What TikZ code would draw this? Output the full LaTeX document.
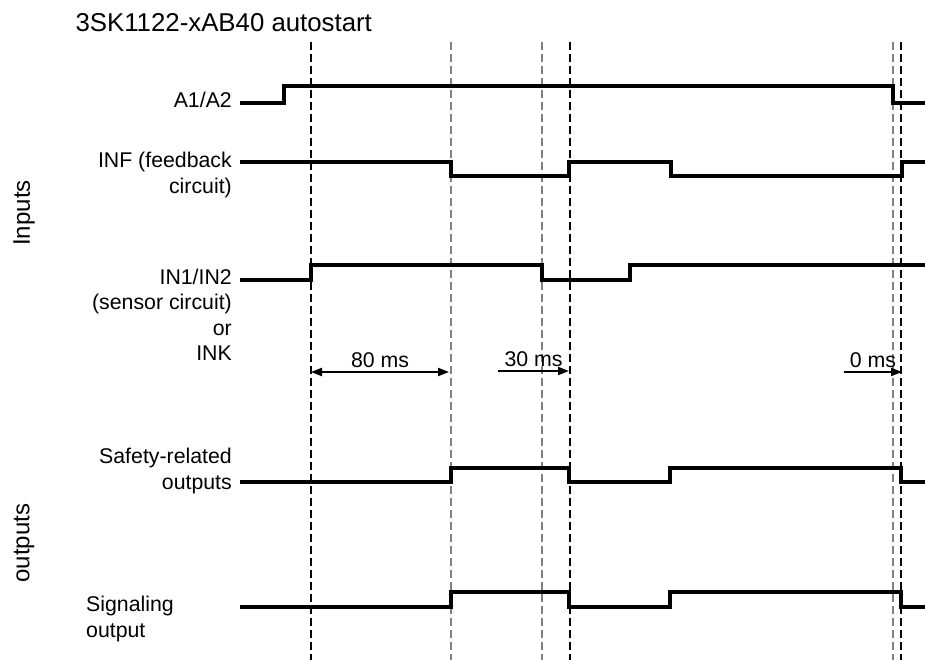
\documentclass[tikz,border=0pt]{standalone}
\usepackage{fontspec}
\setmainfont{Liberation Sans}
\usetikzlibrary{arrows.meta}

\begin{document}
\begin{tikzpicture}[
  x=1pt,y=-1pt,
  font=\fontsize{21.3}{25.5}\selectfont,
  signal/.style={line width=3.3pt,line join=miter},
  marker/.style={line width=1.1pt,dash pattern=on 8pt off 4pt},
  sigtext/.style={anchor=east,align=right,inner sep=0pt},
  group/.style={rotate=90,font=\fontsize{24}{28}\selectfont},
  interval/.style={line width=2pt,-{Triangle[length=11pt,width=8pt]}},
  bothways/.style={line width=2pt,
    {Triangle[length=11pt,width=8pt]}-{Triangle[length=11pt,width=8pt]}}
]
  \useasboundingbox (0,0) rectangle (925,660);

  \node[anchor=base west,font=\fontsize{25.8}{30}\selectfont] (title) at (72,32)
    {3SK1122-xAB40 autostart};

  % time marks
  \foreach \x/\c in {311/black,451/gray,542/gray,570/black,893/gray,901/black}
    \draw[marker,\c] (\x,42) -- (\x,660);

  % signal names
  \node[group] (inputs) at (24,213) {Inputs};
  \node[group] (outputs) at (24,543) {outputs};
  \node[sigtext] (a1a2) at (232,100) {A1/A2};
  \node[sigtext] (inf) at (232,175) {INF (feedback\\circuit)};
  \node[sigtext] (in12) at (232,315) {IN1/IN2\\(sensor circuit)\\or\\INK};
  \node[sigtext] (safety) at (232,471) {Safety-related\\outputs};
  \node[sigtext,anchor=west,align=left] (signaling) at (86,619)
    {Signaling\\output};

  % waveforms
  \draw[signal] (240,103) -| (284,86) -| (893,103) -- (925,103);
  \draw[signal] (240,162) -| (451,176) -| (569,162) -| (671,176) -| (902,162) -- (925,162);
  \draw[signal] (240,280) -| (311,265) -| (542,280) -| (630,265) -- (925,265);
  \draw[signal] (240,482) -| (451,468) -| (569,482) -| (670,468) -| (901,482) -- (925,482);
  \draw[signal] (240,607) -| (451,592) -| (569,607) -| (670,592) -| (901,607) -- (925,607);

  % delays
  \coordinate (d80a) at (311,372);
  \coordinate (d80b) at (449,372);
  \coordinate (d30a) at (498,371);
  \coordinate (d30b) at (569,371);
  \coordinate (d0a) at (844,372);
  \coordinate (d0b) at (902,372);
  \draw[bothways] (d80a) -- node[above] (t80) {80 ms} (d80b);
  \draw[interval] (d30a) -- node[above] (t30) {30 ms} (d30b);
  \draw[interval] (d0a) -- node[above] (t0) {0 ms} (d0b);
\end{tikzpicture}
\end{document}
